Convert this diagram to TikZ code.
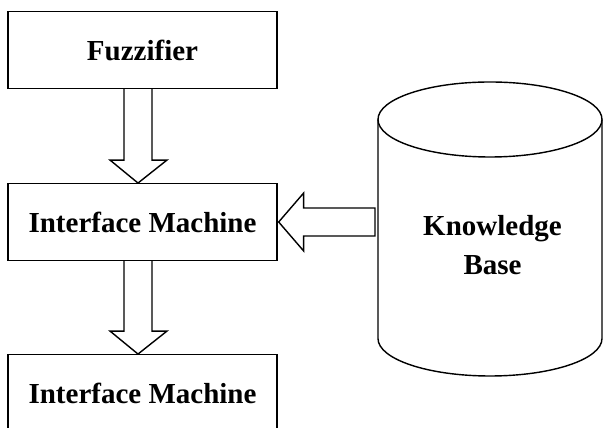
\documentclass[tikz,border=0pt]{standalone}
\usepackage{fontspec}
\setmainfont{Liberation Serif}
\usetikzlibrary{calc}

% hollow block arrow going down from one box to the next
\newcommand{\hollowdown}[2]{%
  \draw ($(#1.south)+(-18.5,0)$) -- ($(#2.north)+(-18.5,-23)$)
     -- ($(#2.north)+(-32.5,-23)$) -- ($(#2.north)+(-4.5,0)$)
     -- ($(#2.north)+(24.5,-23)$) -- ($(#2.north)+(9.5,-23)$)
     -- ($(#1.south)+(9.5,0)$);}

\begin{document}
\begin{tikzpicture}[thick,x=0.02cm,y=-0.02cm,
    box/.style={draw,minimum width=5.38cm,minimum height=1.53cm,inner sep=0pt},
    every node/.style={font=\fontsize{16.5}{22.2}\selectfont\bfseries}]
    \useasboundingbox (0,0) rectangle (603,428);
    \node [box] (fuzz) at (142.5,50) {Fuzzifier};
    \node [box] (iface) at (142.5,222) {Interface Machine};
    \node [box] (out) at (142.5,393) {Interface Machine};
    % knowledge base drum
    \draw (490,119.5) ellipse [x radius=112,y radius=37.5];
    \draw (378,119.5) -- (378,338.5) arc [start angle=180,end angle=0,x radius=112,y radius=37.5] -- (602,119.5);
    \node [align=center] (kb) at (492.5,245) {Knowledge\\Base};
    \coordinate (kbwall) at (375,222);
    \hollowdown{fuzz}{iface}
    \hollowdown{iface}{out}
    \draw ($(kbwall)+(0,-14)$) -- ($(iface.east)+(26,-14)$) -- ($(iface.east)+(26,-29)$)
        -- ($(iface.east)+(1,0)$) -- ($(iface.east)+(26,29)$) -- ($(iface.east)+(26,14)$)
        -- ($(kbwall)+(0,14)$) -- cycle;
\end{tikzpicture}
\end{document}
